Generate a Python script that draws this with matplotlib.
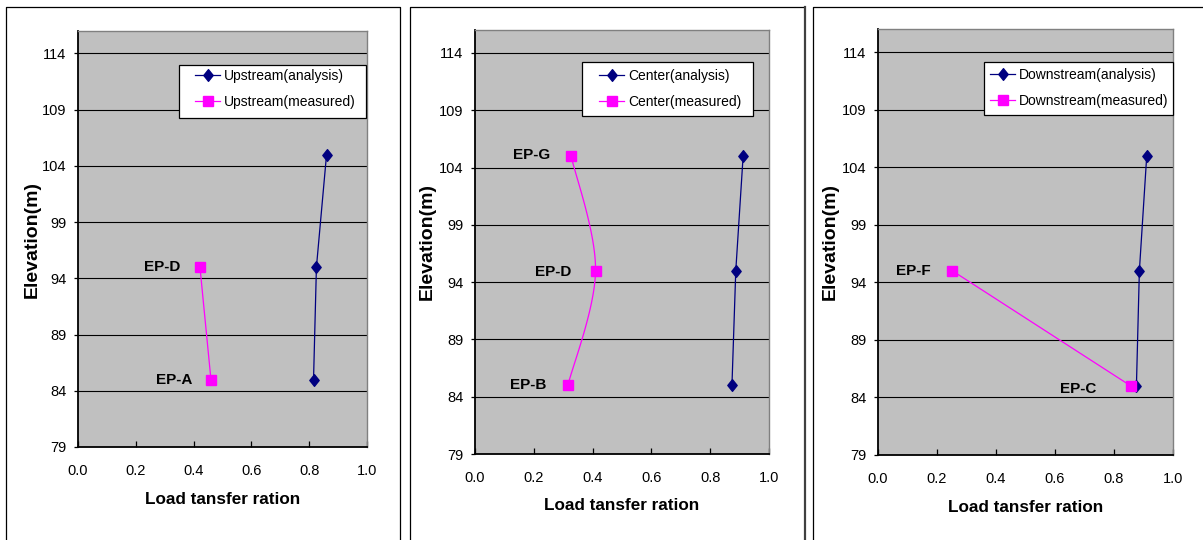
import numpy as np
import matplotlib
matplotlib.use("Agg")
import matplotlib.pyplot as plt
from matplotlib.lines import Line2D
from matplotlib.patches import Rectangle
from matplotlib.path import Path

# ---------------- data ----------------
elevation = [85, 95, 105]

up_analysis = [0.815, 0.825, 0.86]
up_measured_elev = [85, 95]
up_measured = [0.46, 0.422]
up_labels = ["EP-A", "EP-D"]

center_analysis = [0.874, 0.887, 0.912]
center_measured_elev = [85, 95, 105]
center_measured = [0.316, 0.41, 0.327]
center_labels = ["EP-B", "EP-D", "EP-G"]

down_analysis = [0.876, 0.886, 0.911]
down_measured_elev = [85, 95]
down_measured = [0.857, 0.252]
down_labels = ["EP-C", "EP-F"]

series_names = ["Upstream", "Center", "Downstream"]
y_ticks = [79, 84, 89, 94, 99, 104, 109, 114]
x_ticks = [0.0, 0.2, 0.4, 0.6, 0.8, 1.0]

# ---------------- layout (pixels) ----------------
W, H = 1203, 540
FONT = "Liberation Sans"
NAVY = "#000080"
MAGENTA = "#FF00FF"
PLOT_BG = "#C0C0C0"

axes_px = [(78, 367, 31, 447), (475, 769, 30, 454), (878, 1173, 29, 455)]
legend_box_px = [(179, 366, 65, 118), (582, 753, 62, 116), (984, 1173, 62, 115)]
legend_anchor_px = [(195, 69), (599, 69), (990, 68)]
ylabel_x_px = [32, 427, 830]
label_offsets_px = [
    [(-19, 0), (-20, 0)],
    [(-22, 0), (-24, 1), (-21, -1)],
    [(-34, 3), (-22, 0)],
]


def fx(x):
    return x / W


def fy(y):
    return 1 - y / H


fig = plt.figure(figsize=(W / 100, H / 100), dpi=100)
fig.patch.set_facecolor("white")


def fig_line(xs, ys, color="black", lw=0.9):
    fig.add_artist(Line2D([fx(v) for v in xs], [fy(v) for v in ys],
                          color=color, lw=lw, transform=fig.transFigure))


# panel borders
fig_line([6, 6, 399.5, 399.5], [541, 7, 7, 541])
fig_line([409.5, 409.5, 804], [541, 7, 7])
fig_line([804.5, 804.5], [7, 541], color="#404040", lw=1.6)
fig_line([813, 813, 1204], [541, 6.5, 6.5])

# diamond marker (slightly taller than wide)
diamond = Path([(0, 1), (0.8, 0), (0, -1), (-0.8, 0), (0, 1)],
               [Path.MOVETO, Path.LINETO, Path.LINETO, Path.LINETO, Path.CLOSEPOLY])


def catmull_rom(xs, ys, n=40):
    pts = np.column_stack([xs, ys]).astype(float)
    ext = np.vstack([pts[0], pts, pts[-1]])
    out = []
    for i in range(1, len(ext) - 2):
        p0, p1, p2, p3 = ext[i - 1], ext[i], ext[i + 1], ext[i + 2]
        t = np.linspace(0, 1, n)[:, None]
        seg = 0.5 * ((2 * p1) + (-p0 + p2) * t + (2 * p0 - 5 * p1 + 4 * p2 - p3) * t ** 2
                     + (-p0 + 3 * p1 - 3 * p2 + p3) * t ** 3)
        out.append(seg if i == 1 else seg[1:])
    arr = np.vstack(out)
    return arr[:, 0], arr[:, 1]


analysis_all = [up_analysis, center_analysis, down_analysis]
measured_all = [up_measured, center_measured, down_measured]
measured_elev_all = [up_measured_elev, center_measured_elev, down_measured_elev]
labels_all = [up_labels, center_labels, down_labels]
smooth_flags = [False, True, False]

for k in range(3):
    l, r, t, b = axes_px[k]
    ax = fig.add_axes([fx(l), fy(b), fx(r) - fx(l), (b - t) / H])
    ax.set_facecolor(PLOT_BG)
    ax.set_xlim(0, 1.0)
    ax.set_ylim(79, 116)
    ax.set_xticks(x_ticks)
    ax.set_xticklabels([f"{v:.1f}" for v in x_ticks], fontfamily=FONT, fontsize=10.5)
    ax.set_yticks(y_ticks)
    ax.set_yticklabels([str(v) for v in y_ticks], fontfamily=FONT, fontsize=10.5)
    ax.tick_params(axis="x", direction="in", length=4, width=0.9, pad=12.5, color="black")
    ax.tick_params(axis="y", direction="out", length=3, width=0.9, pad=5.5, color="black")
    for yv in y_ticks[1:]:
        ax.axhline(yv, color="black", lw=0.8, zorder=1)
    for side in ("left", "bottom"):
        ax.spines[side].set_color("black")
        ax.spines[side].set_linewidth(1.3)
    for side in ("top", "right"):
        ax.spines[side].set_color("#808080")
        ax.spines[side].set_linewidth(1.0)

    name = series_names[k]
    ax.plot(analysis_all[k], elevation, color=NAVY, lw=0.9, marker=diamond,
            markersize=8.4, markerfacecolor=NAVY, markeredgecolor=NAVY, zorder=3)
    mx, my = measured_all[k], measured_elev_all[k]
    if smooth_flags[k]:
        sx, sy = catmull_rom(mx, my)
        ax.plot(sx, sy, color=MAGENTA, lw=0.9, zorder=3)
        ax.plot(mx, my, linestyle="none", marker="s", markersize=7.2,
                color=MAGENTA, zorder=4)
    else:
        ax.plot(mx, my, color=MAGENTA, lw=0.9, marker="s", markersize=7.2, zorder=4)

    h1 = Line2D([], [], color=NAVY, lw=0.9, marker=diamond, markersize=8.4)
    h2 = Line2D([], [], color=MAGENTA, lw=0.9, marker="s", markersize=7.2)

    for (xv, yv, txt, (dx, dy)) in zip(mx, my, labels_all[k], label_offsets_px[k]):
        ax.annotate(txt, xy=(xv, yv), xytext=(dx * 0.72, -dy * 0.72),
                    textcoords="offset points", ha="right", va="center",
                    fontfamily=FONT, fontweight="bold", fontsize=11, zorder=5)

    ax.set_xlabel("Load tansfer ration", fontfamily=FONT, fontweight="bold", fontsize=12.3)
    ax.xaxis.set_label_coords(0.5, -52 / (b - t))
    ax.xaxis.label.set_va("center")
    ax.set_ylabel("Elevation(m)", fontfamily=FONT, fontweight="bold", fontsize=14)
    ax.yaxis.set_label_coords(-(l - ylabel_x_px[k]) / (r - l), 0.5)
    ax.yaxis.label.set_va("center")

    # legend frame
    bl, br, bt, bb = legend_box_px[k]
    ax.add_patch(Rectangle((fx(bl), fy(bb)), fx(br) - fx(bl), (bb - bt) / H,
                           transform=fig.transFigure, facecolor="white",
                           edgecolor="black", lw=0.9, clip_on=False, zorder=4.9))
    axp, ayp = legend_anchor_px[k]
    leg = ax.legend([h1, h2], [f"{name}(analysis)", f"{name}(measured)"],
                    loc="upper left", bbox_to_anchor=(fx(axp), fy(ayp)),
                    bbox_transform=fig.transFigure, frameon=False,
                    borderpad=0, borderaxespad=0, handlelength=1.8,
                    handletextpad=0.3, labelspacing=0.85,
                    prop={"family": FONT, "size": 10})
    leg.set_zorder(5)

fig.savefig("out.png", dpi=100)
